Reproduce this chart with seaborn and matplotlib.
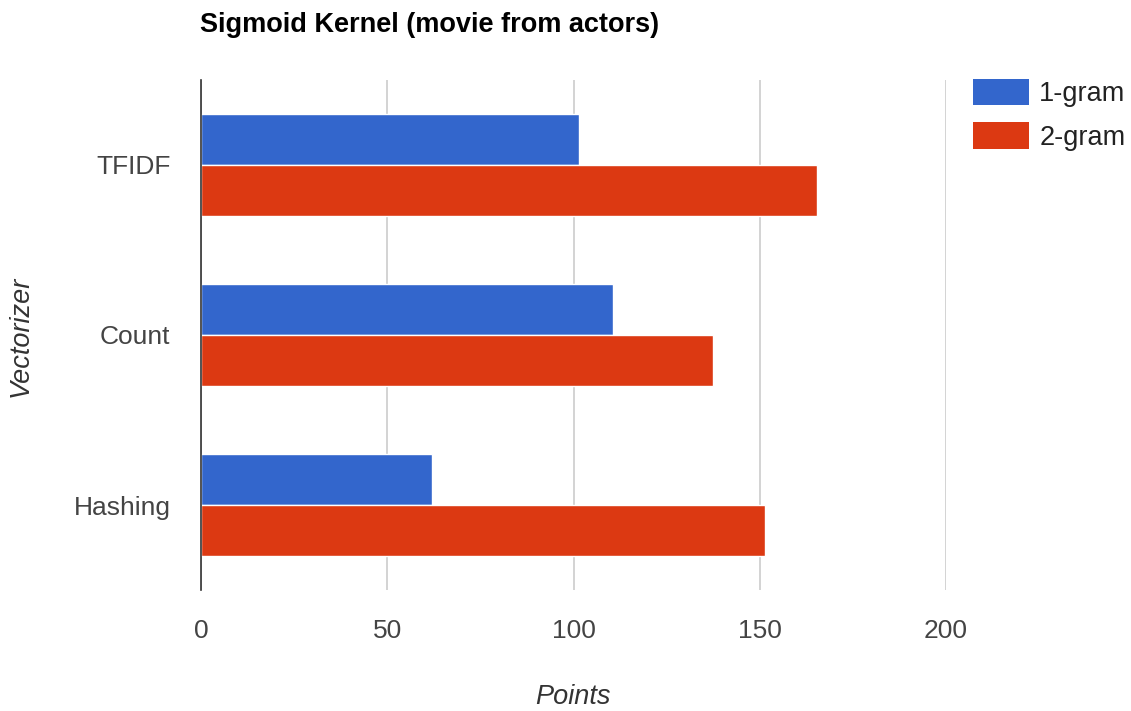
import matplotlib
matplotlib.use("Agg")
import matplotlib.pyplot as plt
import seaborn as sns
import pandas as pd
from matplotlib.patches import Patch

vectorizers = ["TFIDF", "Count", "Hashing"]
series = ["1-gram", "2-gram"]
one_gram = [101.5, 110.5, 62]
two_gram = [165.5, 137.5, 151.5]
x_ticks = [0, 50, 100, 150, 200]
colors = ["#3366CC", "#DC3912"]

df = pd.DataFrame({
    "Vectorizer": vectorizers * 2,
    "Series": [series[0]] * 3 + [series[1]] * 3,
    "Points": one_gram + two_gram,
})

sns.set_theme(style="white")
plt.rcParams["font.family"] = ["Liberation Sans", "DejaVu Sans"]

W, H = 1131, 711
fig = plt.figure(figsize=(W / 100, H / 100), dpi=100)
ax = fig.add_axes([201 / W, 1 - 590 / H, (946 - 201) / W, (590 - 80) / H])

sns.barplot(data=df, y="Vectorizer", x="Points", hue="Series",
            order=vectorizers, hue_order=series, palette=colors,
            width=0.6, orient="h", ax=ax, legend=False,
            edgecolor="white", linewidth=1.0, saturation=1)

ax.set_xlim(0, 200)
ax.set_ylim(2.5, -0.5)
ax.set_xticks(x_ticks)
ax.set_xticklabels([str(t) for t in x_ticks])
ax.grid(axis="x", color="#cccccc", linewidth=1.2)
ax.grid(axis="y", visible=False)
ax.set_axisbelow(True)
for s in ["top", "right", "bottom"]:
    ax.spines[s].set_visible(False)
ax.spines["left"].set_color("#333333")
ax.spines["left"].set_linewidth(1.2)
ax.spines["left"].set_zorder(5)
ax.tick_params(axis="both", length=0, labelsize=19, labelcolor="#444444")
ax.tick_params(axis="x", pad=21)
ax.tick_params(axis="y", pad=22)

ax.set_xlabel("")
ax.set_ylabel("")
fig.text(573 / W, 1 - 697 / H, "Points", fontsize=19.5, style="italic",
         color="#333333", ha="center", va="center")
fig.text(21 / W, 1 - 336 / H, "Vectorizer", fontsize=19.5, style="italic",
         color="#333333", ha="center", va="center", rotation=90)

fig.text(200 / W, 1 - 25 / H, "Sigmoid Kernel (movie from actors)",
         fontsize=19.5, fontweight="bold", color="#000000", va="center", ha="left")

handles = [Patch(facecolor=c, edgecolor="none") for c in colors]
fig.legend(handles, series, loc="upper left", bbox_to_anchor=(973 / W, 1 - 79 / H),
           frameon=False, fontsize=19.5, handlelength=2.05, handleheight=1.12,
           labelspacing=0.55, handletextpad=0.4, borderpad=0, borderaxespad=0,
           labelcolor="#222222")

fig.savefig("out.png", dpi=100, facecolor="white")
